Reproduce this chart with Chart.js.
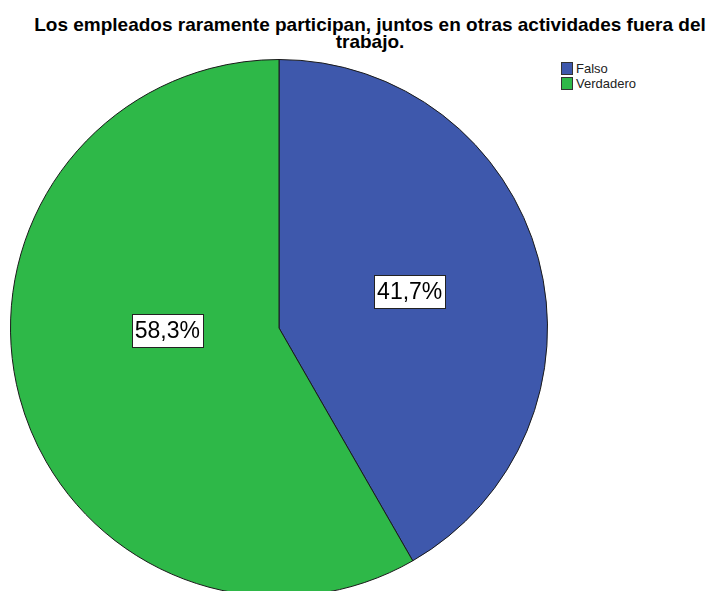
<!DOCTYPE html>
<html>
<head>
<meta charset="utf-8">
<script src="https://cdn.jsdelivr.net/npm/chart.js@4"></script>
<style>
  html, body { margin: 0; padding: 0; background: #fff; overflow: hidden; width: 713px; height: 591px; }
  #title {
    position: absolute; left: 0; top: 16px; width: 740px;
    text-align: center; font: bold 19px "Liberation Sans", Arial, sans-serif;
    line-height: 17px; color: #000;
  }
  #pie-wrap { position: absolute; left: 10px; top: 59px; width: 538px; height: 538px; }
  #legend {
    position: absolute; left: 561px; top: 61px;
    font: 13px "Liberation Sans", Arial, sans-serif; color: #222;
  }
  .leg-row { display: flex; align-items: center; height: 15px; }
  .leg-box { width: 10px; height: 11px; border: 1px solid #333; margin-right: 3px; }
</style>
</head>
<body>
<div id="title">Los empleados raramente participan, juntos en otras actividades fuera del<br>trabajo.</div>
<div id="pie-wrap"><canvas id="pieChart"></canvas></div>
<div id="legend"></div>
<script>
const categories = ['Falso', 'Verdadero'];
const percentages = [41.7, 58.3];
const sliceColors = ['#3e58ac', '#2eb848'];

// ── Legend built from the same arrays ──
document.getElementById('legend').innerHTML = categories.map((c, i) => `
  <div class="leg-row"><div class="leg-box" style="background:${sliceColors[i]}"></div>${c}</div>
`).join('');

// ── Boxed percentage labels inside each slice ──
const boxedLabels = {
  id: 'boxedLabels',
  afterDatasetsDraw(chart, args, opts) {
    const { ctx } = chart;
    const meta = chart.getDatasetMeta(0);
    const nudge = opts.nudge || [];
    ctx.save();
    ctx.font = '23px "Liberation Sans", Arial, sans-serif';
    ctx.textAlign = 'center';
    ctx.textBaseline = 'middle';
    meta.data.forEach((arc, i) => {
      const { x, y, startAngle, endAngle, outerRadius } = arc.getProps(['x', 'y', 'startAngle', 'endAngle', 'outerRadius'], true);
      const mid = (startAngle + endAngle) / 2;
      const r = outerRadius * 0.5;
      const [nx, ny] = nudge[i] || [0, 0];
      const cx = x + Math.cos(mid) * r + nx;
      const cy = y + Math.sin(mid) * r + ny;
      const text = percentages[i].toFixed(1).replace('.', ',') + '%';
      const w = Math.round(ctx.measureText(text).width + 6);
      const h = 33;
      const bx = Math.round(cx - w / 2) + 0.5;
      const by = Math.round(cy - h / 2) + 0.5;
      ctx.fillStyle = '#fff';
      ctx.fillRect(bx, by, w, h);
      ctx.strokeStyle = '#222';
      ctx.lineWidth = 1;
      ctx.strokeRect(bx, by, w, h);
      ctx.fillStyle = '#000';
      ctx.fillText(text, cx, cy + 1);
    });
    ctx.restore();
  }
};

new Chart(document.getElementById('pieChart'), {
  type: 'pie',
  data: {
    labels: categories,
    datasets: [{
      data: percentages,
      backgroundColor: sliceColors,
      borderColor: '#1a1a1a',
      borderWidth: 1
    }]
  },
  options: {
    responsive: true,
    maintainAspectRatio: false,
    animation: false,
    layout: { padding: 0 },
    plugins: {
      legend: { display: false },
      tooltip: { enabled: false },
      boxedLabels: { nudge: [[1, -2], [18, -32]] }
    }
  },
  plugins: [boxedLabels]
});
</script>
</body>
</html>
